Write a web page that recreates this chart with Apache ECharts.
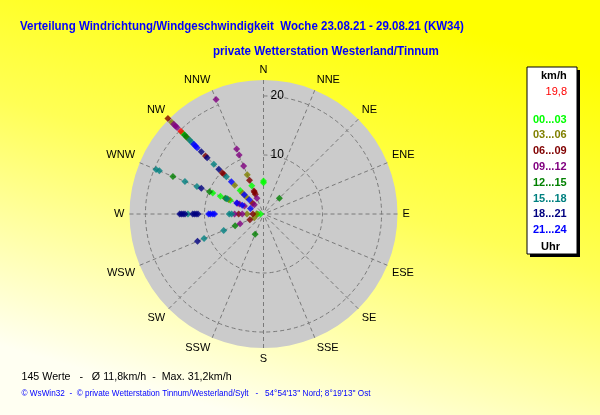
<!DOCTYPE html>
<html><head><meta charset="utf-8">
<script src="https://cdn.jsdelivr.net/npm/echarts@6/dist/echarts.min.js"></script>
<style>html,body{margin:0;padding:0;background:#fff;}#c{width:600px;height:415px;}</style>
</head><body><div id="c"></div>
<script>
// ---- data ----
const directions = ['N','NNE','NE','ENE','E','ESE','SE','SSE','S','SSW','SW','WSW','W','WNW','NW','NNW'];
const radiusMax = 22.7;
const radiusStep = 10;
const binLabels = ['00...03','03...06','06...09','09...12','12...15','15...18','18...21','21...24'];
const binColors = ['#00ff00','#808000','#800000','#800080','#008000','#008080','#000080','#0000ff'];

// [direction, speed km/h]
const h00_03 = [['NW',19.4],['NW',5.6],['NNW',5.2],['N',5.6],['N',5.3],['WNW',9.3],['WNW',7.9],['WNW',6.7],['WNW',6.1],['W',1.0],['W',0.5]];
const h03_06 = [['NW',22.0],['NW',18.1],['NW',6.9],['NW',5.0],['NW',4.1],['NNW',7.2],['WNW',6.4],['W',2.8],['W',1.2],['WSW',1.7]];
const h06_09 = [['NW',22.9],['NW',13.9],['NW',9.9],['NW',9.5],['NW',2.6],['NNW',6.2],['NNW',4.2],['NNW',4.0],['NNW',3.6],['W',4.2],['W',1.8],['WSW',2.5]];
const h09_12 = [['NW',21.5],['NW',21.1],['NW',20.7],['NW',2.2],['NNW',21.0],['NNW',11.9],['NNW',10.8],['NNW',8.8],['NNW',2.9],['WNW',4.8],['WNW',4.4],['WNW',3.5],['W',4.9],['W',3.6],['WSW',4.3]];
const h12_15 = [['NW',18.9],['NW',18.5],['WNW',16.6],['WNW',9.9],['WNW',7.0],['NE',3.8],['WSW',5.2],['SSW',3.7]];
const h15_18 = [['NW',17.7],['NW',17.2],['NW',11.9],['NW',8.9],['WNW',19.7],['WNW',19.1],['WNW',14.4],['WNW',12.2],['WNW',6.7],['W',12.8],['W',5.8],['W',5.4],['WSW',10.9],['WSW',7.3]];
const h18_21 = [['NW',14.9],['NW',13.5],['NW',10.7],['WNW',11.4],['W',14.2],['W',13.9],['W',13.6],['W',13.3],['W',12.0],['W',11.7],['W',11.4],['W',11.1],['WSW',12.1]];
const h21_24 = [['NW',16.7],['NW',16.3],['NW',15.9],['NW',7.7],['NW',4.6],['NW',3.4],['WNW',4.9],['WNW',3.9],['WNW',2.4],['W',9.3],['W',9.0],['W',8.6],['W',8.3]];
const current = [['NW',19.8]];

const titleText = 'Verteilung Windrichtung/Windgeschwindigkeit  Woche 23.08.21 - 29.08.21 (KW34)';
const subtitleText = 'private Wetterstation Westerland/Tinnum';
const statsText = '145 Werte   -   \u00d8 11,8km/h  -  Max. 31,2km/h';
const footerText = '\u00a9 WsWin32  -  \u00a9 private Wetterstation Tinnum/Westerland/Sylt   -   54\u00b054\'13\'\' Nord; 8\u00b019\'13\'\' Ost';
const unitLabel = 'km/h';
const hourLabel = 'Uhr';

// ---- chart ----
const FONT = 'Liberation Sans, Arial, sans-serif';
const bins = [h00_03, h03_06, h06_09, h09_12, h12_15, h15_18, h18_21, h21_24];
const toPolar = arr => arr.map(p => [p[1], p[0]]);

const series = bins.map((b, i) => ({
  name: binLabels[i], type: 'scatter', coordinateSystem: 'polar', polarIndex: 1, clip: false,
  symbol: 'diamond', symbolSize: 7, itemStyle: {color: binColors[i]}, z: 5,
  data: toPolar(b)
}));
series.push({name: 'aktuell', type: 'scatter', coordinateSystem: 'polar', polarIndex: 1, clip: false,
  symbol: 'diamond', symbolSize: 7, itemStyle: {color: '#ff0000'}, z: 6, data: toPolar(current)});

const legendTexts = binLabels.map((t, i) => ({
  type: 'text', x: 533, y: 114 + i * 15.8,
  style: {text: t, fill: binColors[i], font: 'bold 11px ' + FONT}
}));

const CENTER = [263.5, 214], RADIUS = 134;

const option = {
  animation: false,
  backgroundColor: {type: 'linear', x: 0.6, y: 0, x2: 0.4, y2: 1,
    colorStops: [{offset: 0, color: '#ffff00'}, {offset: 0.45, color: '#ffff55'}, {offset: 1, color: '#fffff2'}]},
  polar: [{center: CENTER, radius: RADIUS}, {center: CENTER, radius: RADIUS}],
  angleAxis: [
    {polarIndex: 0, type: 'value', min: 0, max: 360, z: 0,
     axisLine: {show: false}, axisTick: {show: false}, axisLabel: {show: false}, splitLine: {show: false}},
    {polarIndex: 1, type: 'category', data: directions, boundaryGap: false, startAngle: 90, clockwise: true, z: 2,
     axisLine: {show: false}, axisTick: {show: false},
     axisLabel: {interval: 0, margin: 5, fontSize: 11, color: '#000', fontFamily: FONT},
     splitLine: {show: true, lineStyle: {color: '#7a7a7a', type: [4, 3], width: 1}}}
  ],
  radiusAxis: [
    {polarIndex: 0, type: 'value', min: 0, max: radiusMax, z: 0,
     axisLine: {show: false}, axisTick: {show: false}, axisLabel: {show: false}, splitLine: {show: false},
     splitArea: {show: true, areaStyle: {color: ['#cbcbcb']}}},
    {polarIndex: 1, type: 'value', min: 0, max: radiusMax, interval: radiusStep, z: 2,
     axisLine: {show: false}, axisTick: {show: false},
     axisLabel: {margin: -7, align: 'left', fontSize: 12, color: '#000', fontFamily: FONT, showMinLabel: false, showMaxLabel: false},
     splitLine: {show: true, lineStyle: {color: ['rgba(0,0,0,0)', '#7a7a7a', '#7a7a7a', 'rgba(0,0,0,0)'], type: [4, 3], width: 1}},
     splitArea: {show: false}}
  ],
  graphic: [
    {type: 'text', x: 20, y: 19.5, scaleX: 0.886, style: {text: titleText, fill: '#0000ff', font: 'bold 13px ' + FONT}},
    {type: 'text', x: 213, y: 44.5, scaleX: 0.893, style: {text: subtitleText, fill: '#0000ff', font: 'bold 13px ' + FONT}},
    {type: 'text', x: 21.5, y: 371, scaleX: 0.97, style: {text: statsText, fill: '#000', font: '11px ' + FONT}},
    {type: 'text', x: 21.5, y: 389.5, style: {text: footerText, fill: '#0000ff', font: '8.2px ' + FONT}},
    {type: 'rect', shape: {x: 530, y: 70, width: 50, height: 187}, style: {fill: '#000'}},
    {type: 'rect', shape: {x: 527, y: 67, width: 50, height: 187}, style: {fill: '#fff', stroke: '#000', lineWidth: 1}},
    {type: 'text', x: 541, y: 70, style: {text: unitLabel, fill: '#000', font: 'bold 11px ' + FONT}},
    {type: 'text', x: 567, y: 86, style: {text: current[0][1].toFixed(1).replace('.', ','), fill: '#ff0000', font: '11px ' + FONT, align: 'right'}},
    ...legendTexts,
    {type: 'text', x: 541, y: 241, style: {text: hourLabel, fill: '#000', font: 'bold 11px ' + FONT}}
  ],
  series: series
};

const chart = echarts.init(document.getElementById('c'), null, {renderer: 'canvas'});
chart.setOption(option);
</script>
</body></html>
